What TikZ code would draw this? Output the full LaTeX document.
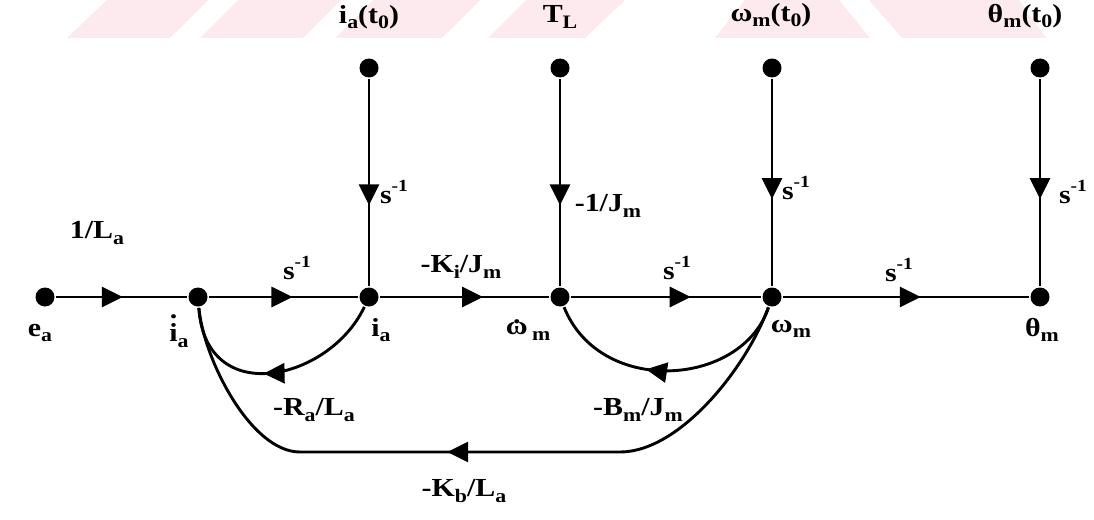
\documentclass[tikz,border=0pt]{standalone}
\usepackage{fontspec}
\setmainfont{Liberation Serif}[FakeStretch=1.15]
\usetikzlibrary{arrows.meta,decorations.markings}

\newcommand{\lo}[1]{\raisebox{-0.22em}{\fontsize{19}{20}\selectfont #1}}
\newcommand{\hi}[1]{\raisebox{0.45em}{\fontsize{17}{18}\selectfont #1}}
\newcommand{\dotab}[2]{\setbox0\hbox{#2}\rlap{\makebox[\wd0][c]{\raisebox{#1}{.}}}\box0}

\tikzset{
  sig/.style={circle, fill, inner sep=0pt, minimum size=19pt},
  lbl/.style={inner sep=0pt, font=\fontsize{26}{28}\selectfont\bfseries},
  flow/.style={postaction={decorate}, decoration={markings,
      mark=at position #1 with {\arrow{Triangle[length=21pt,width=20pt]}}}},
  wmark/.style={fill={rgb,255:red,252;green,234;blue,238}, draw=none}
}

\begin{document}
\begin{tikzpicture}[x=1pt, y=-1pt, line width=2.9pt]
  \useasboundingbox (0,0) rectangle (1094,519);
  % faint band at the top
  \fill[wmark] (67,38) -- (170,38) -- (208,0) -- (107,0) -- cycle;
  \fill[wmark] (200,38) -- (303,38) -- (341,0) -- (238,0) -- cycle;
  \fill[wmark] (335,38) -- (442,38) -- (480,0) -- (373,0) -- cycle;
  \fill[wmark] (488,38) -- (585,38) -- (625,0) -- (526,0) -- cycle;
  \fill[wmark] (715,38) -- (870,38) -- (839,0) -- (745,0) -- cycle;
  \fill[wmark] (902,38) -- (1046,38) -- (1019,0) -- (869,0) -- cycle;

  % signal nodes
  \node[sig] (ea)   at (45,297)   {};
  \node[sig] (ida)  at (198,297)  {};
  \node[sig] (ia)   at (369,297)  {};
  \node[sig] (wd)   at (560,297)  {};
  \node[sig] (wm)   at (772,297)  {};
  \node[sig] (thm)  at (1040,297) {};
  \node[sig] (ia0)  at (369,68)   {};
  \node[sig] (tl)   at (560,68)   {};
  \node[sig] (wm0)  at (772,68)   {};
  \node[sig] (thm0) at (1040,68)  {};

  % node names
  \node[lbl] (ea-l)   at (40,333)  {e\lo{a}};
  \node[lbl] (ida-l)  at (179,331) {\dotab{0.88em}{i}\lo{a}};
  \node[lbl] (ia-l)   at (381,330) {i\lo{a}};
  \node[lbl] (wd-l)   at (528,330) {\dotab{0.42em}{ω}\,\lo{m}};
  \node[lbl] (wm-l)   at (791,329) {ω\lo{m}};
  \node[lbl] (thm-l)  at (1042,330) {θ\lo{m}};
  \node[lbl] (ia0-l)  at (369,17)  {i\lo{a}(t\lo{0})};
  \node[lbl] (tl-l)   at (560,17)  {T\lo{L}};
  \node[lbl] (wm0-l)  at (771,15)  {ω\lo{m}(t\lo{0})};
  \node[lbl] (thm0-l) at (1025,16) {θ\lo{m}(t\lo{0})};

  % gains
  \node[lbl] (g1)  at (97,233)  {1/L\lo{a}};
  \node[lbl] (g2)  at (297,268) {s\hi{-1}};
  \node[lbl] (g3)  at (461,267) {-K\lo{i}/J\lo{m}};
  \node[lbl] (g4)  at (677,268) {s\hi{-1}};
  \node[lbl] (g5)  at (899,270) {s\hi{-1}};
  \node[lbl] (g6)  at (394,192) {s\hi{-1}};
  \node[lbl] (g7)  at (608,206) {-1/J\lo{m}};
  \node[lbl] (g8)  at (796,188) {s\hi{-1}};
  \node[lbl] (g9)  at (1073,192) {s\hi{-1}};
  \node[lbl] (g10) at (314,410) {-R\lo{a}/L\lo{a}};
  \node[lbl] (g11) at (638,410) {-B\lo{m}/J\lo{m}};
  \node[lbl] (g12) at (464,491) {-K\lo{b}/L\lo{a}};

  % forward branches
  \draw[flow=0.51] (ea) -- (ida);
  \draw[flow=0.56] (ida) -- (ia);
  \draw[flow=0.61] (ia) -- (wd);
  \draw[flow=0.63] (wd) -- (wm);
  \draw[flow=0.56] (wm) -- (thm);
  % initial conditions and load
  \draw[flow=0.61] (ia0) -- (ia);
  \draw[flow=0.61] (tl) -- (wd);
  \draw[flow=0.58] (wm0) -- (wm);
  \draw[flow=0.58] (thm0) -- (thm);
  % feedback loops
  \draw[flow=0.55] (ia) .. controls +(-39,83) and +(8,113) .. (ida);
  \draw[flow=0.58] (wm) .. controls +(-30,90) and +(40,100) .. (wd);
  \coordinate (kb1) at (620,452);
  \coordinate (kb2) at (300,452);
  \draw (wm) .. controls +(-25,70) and +(60,0) .. (kb1) -- (kb2)
        .. controls +(-50,0) and +(5,60) .. (ida);
  \draw[flow=0.54] (kb1) -- (kb2);
\end{tikzpicture}
\end{document}
